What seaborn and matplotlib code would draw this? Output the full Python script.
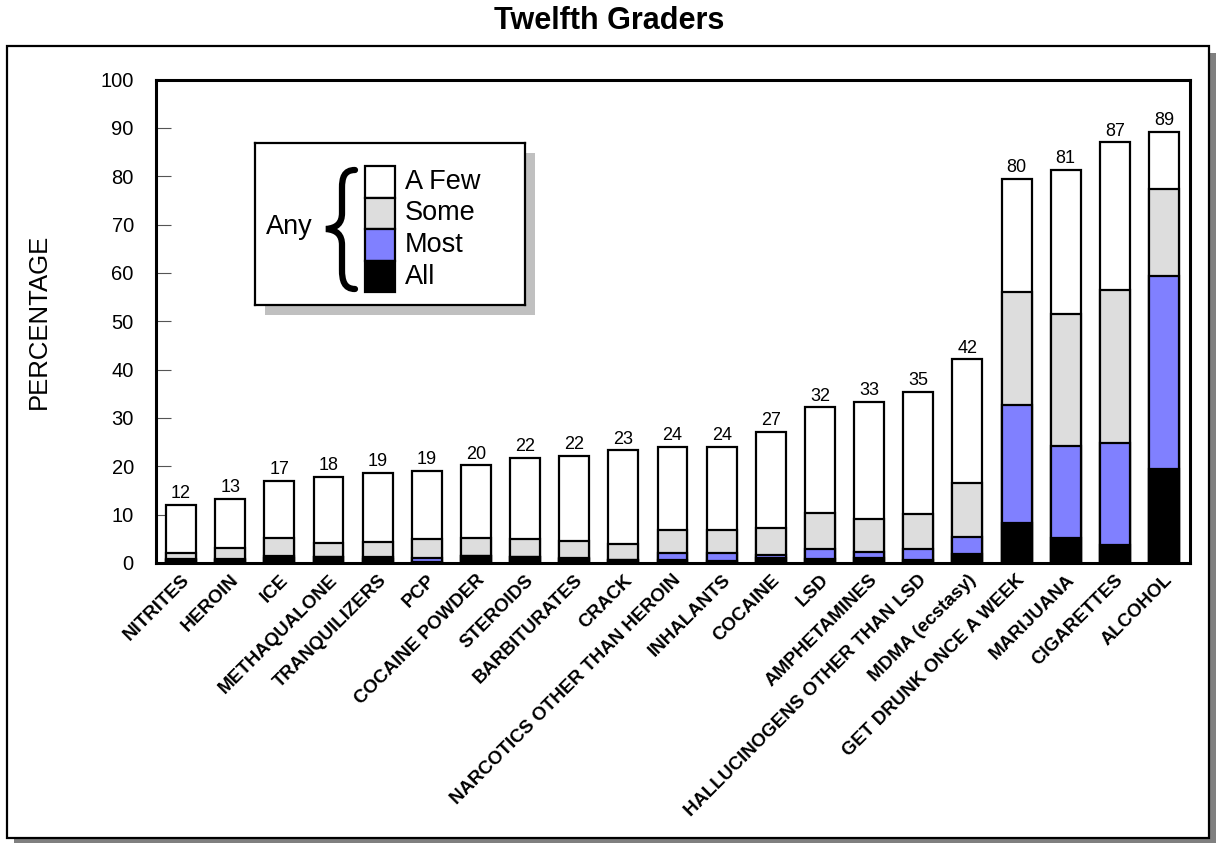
import numpy as np
import pandas as pd
import matplotlib
matplotlib.use("Agg")
import matplotlib.pyplot as plt
import matplotlib.transforms as mtransforms
import seaborn as sns
from matplotlib.patches import Rectangle, PathPatch
from matplotlib.path import Path

# data (percent of twelfth graders saying friends use it)
drugs = ["NITRITES", "HEROIN", "ICE", "METHAQUALONE", "TRANQUILIZERS", "PCP",
         "COCAINE POWDER", "STEROIDS", "BARBITURATES", "CRACK",
         "NARCOTICS OTHER THAN HEROIN", "INHALANTS", "COCAINE", "LSD",
         "AMPHETAMINES", "HALLUCINOGENS OTHER THAN LSD", "MDMA (ecstasy)",
         "GET DRUNK ONCE A WEEK", "MARIJUANA", "CIGARETTES", "ALCOHOL"]
all_pct = [0.7, 0.7, 1.0, 1.2, 0.8, 0.3, 1.4, 1.2, 0.8, 0.6, 0.6, 0.5, 1.0,
           0.8, 1.0, 0.7, 1.9, 8.3, 5.1, 3.7, 19.5]
most_pct = [0.1, 0.1, 0.4, 0.1, 0.4, 0.7, 0.1, 0.1, 0.3, 0.1, 1.4, 1.5, 0.7,
            2.0, 1.3, 2.1, 3.5, 24.3, 19.0, 21.2, 39.8]
some_pct = [1.3, 2.4, 3.8, 2.8, 3.2, 4.0, 3.7, 3.6, 3.5, 3.3, 4.9, 4.9, 5.6,
            7.5, 6.7, 7.4, 11.2, 23.5, 27.4, 31.5, 18.1]
few_pct = [9.9, 10.0, 11.8, 13.7, 14.2, 14.0, 15.0, 16.9, 17.5, 19.3, 17.1,
           17.1, 19.8, 21.9, 24.3, 25.2, 25.5, 23.4, 29.8, 30.6, 11.8]
total_labels = [12, 13, 17, 18, 19, 19, 20, 22, 22, 23, 24, 24, 27, 32, 33,
                35, 42, 80, 81, 87, 89]

legend_names = ["A Few", "Some", "Most", "All"]
legend_colors = ["#FFFFFF", "#DDDDDD", "#8080FF", "#000000"]

df = pd.DataFrame({"drug": drugs, "all": all_pct, "most": most_pct,
                   "some": some_pct, "few": few_pct})
df["c_all"] = df["all"]
df["c_most"] = df["c_all"] + df["most"]
df["c_some"] = df["c_most"] + df["some"]
df["c_few"] = df["c_some"] + df["few"]

sns.set_style("white")
plt.rcParams["font.family"] = ["Liberation Sans", "DejaVu Sans"]
plt.rcParams["text.color"] = "black"
plt.rcParams["axes.labelcolor"] = "black"
plt.rcParams["xtick.color"] = "black"
plt.rcParams["ytick.color"] = "black"

fig = plt.figure(figsize=(12.19, 8.43), dpi=100)

# outer frame with drop shadow
fig.patches.append(Rectangle((14 / 1219, -2 / 843), 1202 / 1219, 792 / 843,
                             transform=fig.transFigure, facecolor="#808080",
                             edgecolor="none", zorder=0))
fig.patches.append(Rectangle((7 / 1219, 5 / 843), 1202 / 1219, 792 / 843,
                             transform=fig.transFigure, facecolor="white",
                             edgecolor="black", linewidth=1.6, zorder=1))

ax = fig.add_axes([156 / 1219, 1 - 563 / 843, 1034 / 1219, 483.5 / 843])
ax.set_zorder(2)

# stacked bars: draw cumulative tops from tallest to shortest
for col, color in zip(["c_few", "c_some", "c_most", "c_all"], legend_colors):
    sns.barplot(data=df, x="drug", y=col, color=color, saturation=1,
                width=0.61, edgecolor="black", linewidth=1.6,
                errorbar=None, ax=ax)

for i, (top, lab) in enumerate(zip(df["c_few"], total_labels)):
    ax.annotate(str(lab), (i, top), xytext=(0, 2), textcoords="offset points",
                ha="center", va="bottom", fontsize=13)

ax.set_xlim(-0.51, 20.53)
ax.set_ylim(0, 100)
ax.set_yticks(np.arange(0, 101, 10))
ax.tick_params(axis="y", direction="in", length=11, width=0.8,
               color="#555555", labelcolor="black", labelsize=14.5, pad=16,
               left=True)
ax.tick_params(axis="x", length=0, pad=7)
ax.set_xticks(range(len(drugs)))
ax.set_xticklabels(drugs, rotation=45, ha="right", va="center",
                   rotation_mode="anchor", fontsize=13.5, fontweight="bold")
# nudge labels a little right/down like the original
shift = mtransforms.ScaledTranslation(0.06, -0.05, fig.dpi_scale_trans)
for t in ax.get_xticklabels():
    t.set_transform(t.get_transform() + shift)
ax.set_xlabel("")
ax.set_ylabel("PERCENTAGE", fontsize=18.5, labelpad=36)
for s in ax.spines.values():
    s.set_visible(True)
    s.set_color("black")
    s.set_linewidth(2.2)

fig.text(0.5, 1 - 21 / 843, "Twelfth Graders", ha="center", va="center",
         fontsize=22, fontweight="bold")

# custom legend box with brace
fig.patches.append(Rectangle((265 / 1219, 1 - 315 / 843), 270 / 1219,
                             162 / 843, transform=fig.transFigure,
                             facecolor="#C0C0C0", edgecolor="none", zorder=3))
lg = fig.add_axes([255 / 1219, 1 - 305 / 843, 270 / 1219, 162 / 843])
lg.set_zorder(4)
lg.set_xlim(0, 270)
lg.set_ylim(162, 0)
lg.set_xticks([])
lg.set_yticks([])
lg.set_facecolor("white")
for s in lg.spines.values():
    s.set_visible(True)
    s.set_color("black")
    s.set_linewidth(1.6)

for k, (name, color) in enumerate(zip(legend_names, legend_colors)):
    y0 = 23 + k * 31.5
    lg.add_patch(Rectangle((110, y0), 30, 31.5, facecolor=color,
                           edgecolor="black", linewidth=1.6))
    lg.text(150, y0 + 16, name, ha="left", va="center", fontsize=19.5)

lg.text(34, 84, "Any", ha="center", va="center", fontsize=19.5)

verts = [(100, 27), (89, 27), (87, 35), (87, 45), (87, 70),
         (87, 80), (82, 85), (71, 86),
         (82, 87), (87, 92), (87, 102), (87, 127),
         (87, 137), (89, 146), (100, 146)]
codes = [Path.MOVETO, Path.CURVE4, Path.CURVE4, Path.CURVE4, Path.LINETO,
         Path.CURVE4, Path.CURVE4, Path.CURVE4,
         Path.CURVE4, Path.CURVE4, Path.CURVE4, Path.LINETO,
         Path.CURVE4, Path.CURVE4, Path.CURVE4]
lg.add_patch(PathPatch(Path(verts, codes), facecolor="none",
                       edgecolor="black", linewidth=4.5, capstyle="round"))

fig.savefig("out.png", dpi=100)
